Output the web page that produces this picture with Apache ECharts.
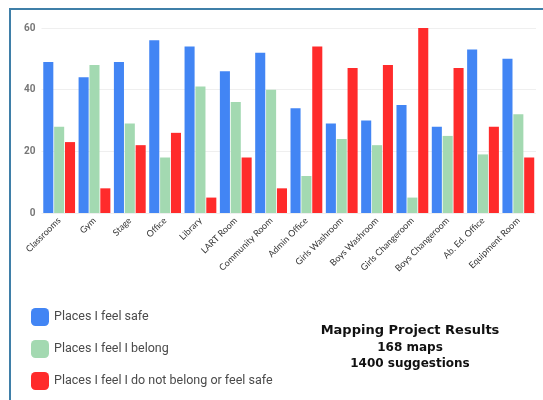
<!DOCTYPE html>
<html>
<head>
<meta charset="utf-8">
<script src="https://cdn.jsdelivr.net/npm/echarts@6/dist/echarts.min.js"></script>
<style>
  html, body { margin: 0; padding: 0; background: #ffffff; }
  #chart { width: 543px; height: 400px; }
</style>
</head>
<body>
<div id="chart"></div>
<script>
// School spaces surveyed in the mapping project
const categories = ['Classrooms', 'Gym', 'Stage', 'Office', 'Library', 'LART Room', 'Community Room',
  'Admin Office', 'Girls Washroom', 'Boys Washroom', 'Girls Changeroom', 'Boys Changeroom',
  'Ab. Ed. Office', 'Equipment Room'];

// Number of suggestions per space
const feelSafe   = [49, 44, 49, 56, 54, 46, 52, 34, 29, 30, 35, 28, 53, 50];
const feelBelong = [28, 48, 29, 18, 41, 36, 40, 12, 24, 22, 5, 25, 19, 32];
const notBelongOrSafe = [23, 8, 22, 26, 5, 18, 8, 54, 47, 48, 60, 47, 28, 18];

const seriesNames = ['Places I feel safe', 'Places I feel I belong', 'Places I feel I do not belong or feel safe'];
const yTicks = [0, 20, 40, 60];

const summaryLines = ['Mapping Project Results', '168 maps', '1400 suggestions'];

const colors = ['#4285f4', '#a3d9b1', '#ff2b2b'];

const chart = echarts.init(document.getElementById('chart'));

const makeSeries = (name, data, i) => ({
  name: name,
  type: 'bar',
  data: data,
  barGap: '8%',
  barCategoryGap: '10%',
  itemStyle: { color: colors[i] }
});

// Centered summary block, one text element per line
const summaryText = summaryLines.map((line, i) => ({
  type: 'text',
  x: 410,
  y: 331 + i * 16.5,
  style: {
    text: line,
    align: 'center',
    verticalAlign: 'middle',
    font: 'bold ' + (i === 0 ? 13 : 12) + 'px "DejaVu Sans"',
    fill: '#111'
  },
  silent: true
}));

chart.setOption({
  animation: false,
  backgroundColor: '#ffffff',
  grid: { left: 41.5, right: 7, top: 28, bottom: 187, containLabel: false },
  xAxis: {
    type: 'category',
    data: categories,
    axisTick: { show: false },
    axisLine: { show: false },
    axisLabel: {
      rotate: 45,
      interval: 0,
      margin: 6,
      fontSize: 9,
      fontFamily: 'Lato',
      color: '#333'
    }
  },
  yAxis: {
    type: 'value',
    min: yTicks[0],
    max: yTicks[yTicks.length - 1],
    interval: yTicks[1] - yTicks[0],
    axisLine: { show: false },
    axisTick: { show: false },
    splitLine: { lineStyle: { color: '#efefef' } },
    axisLabel: { margin: 6, fontSize: 10, fontWeight: 'bold', fontFamily: 'Roboto', color: '#777' }
  },
  legend: {
    orient: 'vertical',
    left: 26,
    top: 303,
    itemWidth: 18,
    itemHeight: 18,
    itemGap: 14,
    icon: 'roundRect',
    textStyle: { fontSize: 12.5, fontFamily: 'Roboto', color: '#4a4a4a' },
    data: seriesNames
  },
  series: [
    makeSeries(seriesNames[0], feelSafe, 0),
    makeSeries(seriesNames[1], feelBelong, 1),
    makeSeries(seriesNames[2], notBelongOrSafe, 2)
  ],
  graphic: [
    {
      type: 'rect',
      shape: { x: 10, y: 9, width: 600, height: 500 },
      style: { fill: 'none', stroke: '#3f7fa8', lineWidth: 2 },
      silent: true
    }
  ].concat(summaryText)
});
</script>
</body>
</html>
